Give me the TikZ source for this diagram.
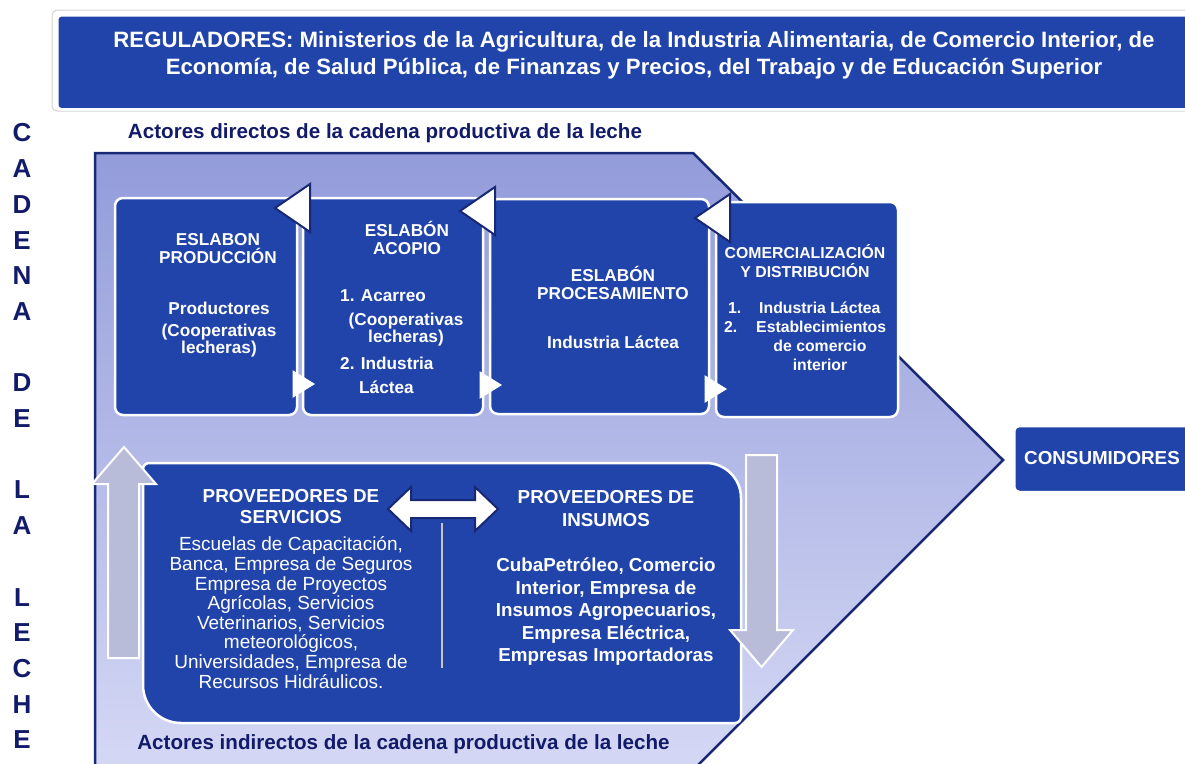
\documentclass[tikz,border=0pt]{standalone}
\usepackage{fontspec}
\setmainfont{Liberation Sans}

\definecolor{azul}{RGB}{33,68,170}
\definecolor{marino}{RGB}{18,26,106}
\definecolor{borde}{RGB}{24,40,116}
\definecolor{lilatop}{RGB}{147,156,218}
\definecolor{lilabot}{RGB}{214,217,245}
\definecolor{gris}{RGB}{184,188,217}

\tikzset{
  caja/.style={fill=azul, draw=white, line width=2.5pt, rounded corners=8pt},
  ban/.style={text=white, align=center, inner sep=0pt, font=\bfseries\fontsize{22.2}{27}\selectfont},
  tit/.style={text=white, align=center, inner sep=0pt, font=\bfseries\fontsize{17.2}{18}\selectfont},
  tit4/.style={tit, font=\bfseries\fontsize{15.8}{19}\selectfont},
  cuerpo/.style={tit, font=\bfseries\fontsize{17.2}{17}\selectfont},
  prov/.style={tit, font=\bfseries\fontsize{18.8}{21}\selectfont},
  servtxt/.style={tit, font=\fontsize{19}{19.6}\selectfont},
  insutxt/.style={tit, font=\bfseries\fontsize{18.8}{22.5}\selectfont},
  actor/.style={text=marino, inner sep=0pt, font=\bfseries\fontsize{20.6}{24}\selectfont},
  letra/.style={text=marino, inner sep=0pt, font=\bfseries\fontsize{26}{28}\selectfont},
  punta/.style={fill=white, draw=borde, line width=2pt, line join=miter},
  puntita/.style={fill=white, draw=white, line width=1pt},
  bloque/.style={fill=gris, draw=white, line width=2pt}
}

\begin{document}
\begin{tikzpicture}[x=1pt, y=-1pt]
\useasboundingbox (0,0) rectangle (1185,763);
\clip (0,0) rectangle (1185,763);

% reguladores
\draw[gray!35, line width=1pt, rounded corners=5pt] (52,10) rectangle (1200,111);
\node[caja, rounded corners=4pt, anchor=north west, minimum width=1140, minimum height=94] (reg) at (56,14) {};
\node[ban] (regtxt) at (634,55) {REGULADORES: Ministerios de la Agricultura, de la Industria Alimentaria, de Comercio Interior, de\\Economía, de Salud Pública, de Finanzas y Precios, del Trabajo y de Educación Superior};

% cadena de la leche
\foreach \l/\k in {C/0,A/1,D/2,E/3,N/4,A/5,D/7,E/8,L/10,A/11,L/13,E/14,C/15,H/16,E/17}
  \node[letra] (c\k) at (22,133+35.7*\k) {\l};

\node[actor] (directos) at (385,133) {Actores directos de la cadena productiva de la leche};

% flecha grande de fondo
\path[draw=borde, line width=2.5pt, top color=lilatop, bottom color=lilabot]
  (95,153) -- (693,153) -- (1003,460) -- (683,780) -- (95,780) -- cycle;

% eslabones
\node[caja, minimum width=182, minimum height=217] (prod) at (206,306.5) {};
\node[caja, minimum width=180, minimum height=217] (acop) at (393,306.5) {};
\node[caja, minimum width=219, minimum height=215] (proc) at (599.5,306.5) {};
\node[caja, minimum width=182, minimum height=215] (comer) at (807,309.5) {};

\foreach \ax/\ay in {275/208, 460/211, 695/218}
  \draw[punta] (\ax,\ay) -- ++(35,-24) -- ++(0,48) -- cycle;
\foreach \ax/\ay in {314/384, 501/385, 726/389}
  \draw[puntita] (\ax,\ay) -- ++(-21,-13) -- ++(0,26) -- cycle;

\node[tit] (prodtit) at (218,249) {ESLABON\\PRODUCCIÓN};
\node[cuerpo] (prodtxt) at (219,308) {Productores};
\node[cuerpo] (prodcoop) at (219,341) {(Cooperativas\\lecheras)};

\node[tit] (acoptit) at (407,237.5) {ESLABÓN\\ACOPIO};
\node[cuerpo, anchor=west] (acop1) at (340,296) {1. Acarreo};
\node[cuerpo] (acopcoop) at (406,329.5) {(Cooperativas\\lecheras)};
\node[cuerpo, anchor=west] (acop2) at (340,363) {2. Industria};
\node[cuerpo, anchor=west] (acop3) at (359,387) {Láctea};

\node[tit] (proctit) at (613,283) {ESLABÓN\\PROCESAMIENTO};
\node[cuerpo] (proctxt) at (613,342) {Industria Láctea};

\node[tit4] (comertit) at (805,261.5) {COMERCIALIZACIÓN\\Y DISTRIBUCIÓN};
\node[tit4, anchor=west] (comer1n) at (728,308) {1.};
\node[tit4, anchor=west] (comer1) at (759,308) {Industria Láctea};
\node[tit4, anchor=west] (comer2n) at (724,327) {2.};
\node[tit4, anchor=west] (comer2) at (756,327) {Establecimientos};
\node[tit4] (comer3) at (820,355) {de comercio\\interior};

% consumidores
\node[caja, rounded corners=5pt, anchor=west, minimum width=200, minimum height=66] (cons) at (1013,459) {};
\node[prov] (constxt) at (1102,458) {CONSUMIDORES};

% actores indirectos
\draw[caja, sharp corners] (149,463) -- (706,463) arc[start angle=270, end angle=360, radius=35]
  -- (741,717) arc[start angle=0, end angle=90, radius=6]
  -- (181,723) arc[start angle=90, end angle=180, radius=38]
  -- (143,469) arc[start angle=180, end angle=270, radius=6] -- cycle;

\draw[bloque] (124,447) -- (156,484) -- (139,484) -- (139,658) -- (108,658) -- (108,484) -- (92,484) -- cycle;
\draw[bloque] (746,455) -- (777,455) -- (777,630) -- (793,630) -- (761.5,667) -- (730,630) -- (746,630) -- cycle;

\draw[gray!45, line width=2pt] (442,523) -- (442,668);
\coordinate (dbl) at (443,509);
\draw[punta, shift={(dbl)}] (-55,0) -- (-32,-22) -- (-32,-9) -- (32,-9) -- (32,-22) -- (55,0)
  -- (32,22) -- (32,9) -- (-32,9) -- (-32,22) -- cycle;

\node[prov] (serv) at (291,506.5) {PROVEEDORES DE\\SERVICIOS};
\node[prov, font=\bfseries\fontsize{18.8}{23}\selectfont] (insu) at (606,508.5) {PROVEEDORES DE\\INSUMOS};
\node[servtxt] (servlist) at (291,612.5) {Escuelas de Capacitación,\\Banca, Empresa de Seguros\\Empresa de Proyectos\\Agrícolas, Servicios\\Veterinarios, Servicios\\meteorológicos,\\Universidades, Empresa de\\Recursos Hidráulicos.};
\node[insutxt] (insulist) at (606,612) {CubaPetróleo, Comercio\\Interior, Empresa de\\Insumos Agropecuarios,\\Empresa Eléctrica,\\Empresas Importadoras};

\node[actor] (indirectos) at (403.5,744) {Actores indirectos de la cadena productiva de la leche};
\end{tikzpicture}
\end{document}
